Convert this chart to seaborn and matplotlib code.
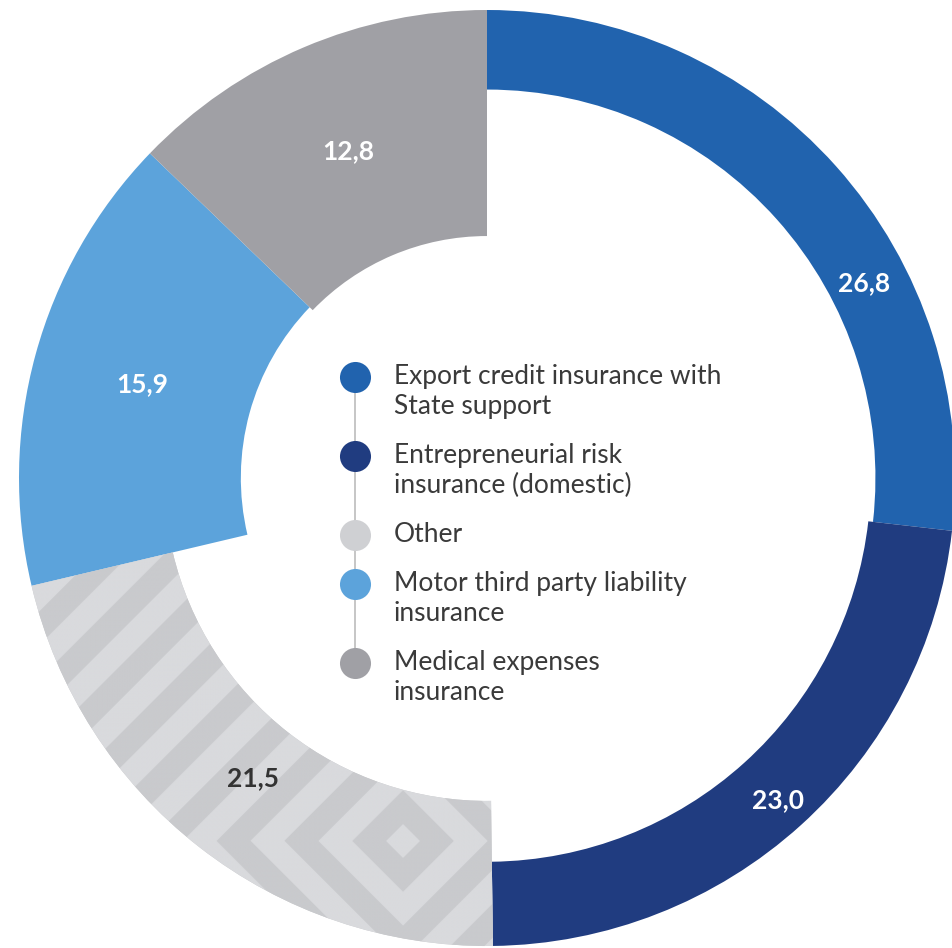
import numpy as np
import pandas as pd
import matplotlib
matplotlib.use("Agg")
import matplotlib.pyplot as plt
from matplotlib.colors import ListedColormap
import seaborn as sns

# Share of gross written premium by line of business, %
categories = [
    "Export credit insurance with\nState support",
    "Entrepreneurial risk\ninsurance (domestic)",
    "Other",
    "Motor third party liability\ninsurance",
    "Medical expenses\ninsurance",
]
shares = [26.8, 23.0, 21.5, 15.9, 12.8]
value_labels = ["26,8", "23,0", "21,5", "15,9", "12,8"]

sns.set_theme(style="white")
plt.rcParams["font.family"] = ["Lato", "DejaVu Sans"]

palette = sns.color_palette(["#2163AE", "#203C80", "#C9CACD", "#5CA3DB", "#A0A0A5"])
legend_palette = sns.color_palette(["#2163AE", "#203C80", "#CFD0D3", "#5CA3DB", "#A0A0A5"])
stripe_light = "#D9DADD"
text_dark = "#3A3A3A"

# ring geometry: each segment has its own inner radius (outer radius = 1)
ring_inner = [0.83, 0.82, 0.69, 0.526, 0.517]
label_along = [0.65, 0.5, 0.5, 0.5, 0.5]    # position along the arc (0 = start)
label_across = [0.45, 0.6, 0.4, 0.5, 0.5]   # position across the band (0 = inner)
label_colors = ["white", "white", "#333333", "white", "white"]

W, H = 953, 948
PX = 468.0                 # pixels per unit radius
CX, CY = 487.0, 478.0      # ring centre in pixels

df = pd.DataFrame({"category": categories, "share": shares, "label": value_labels})

fig = plt.figure(figsize=(W / 100, H / 100), dpi=100)
fig.patch.set_facecolor("white")
ax = fig.add_axes([0, 0, 1, 1])

wedges, _ = ax.pie(
    df["share"], colors=palette, startangle=90, counterclock=False,
    radius=1.0, wedgeprops=dict(linewidth=0),
)
for w, rin in zip(wedges, ring_inner):
    w.set_width(1.0 - rin)

# concentric-diamond texture on the "Other" segment
other = wedges[2]
sc_x, sc_y = (403 - CX) / PX, (CY - 841) / PX
period = 0.145
xs = np.linspace(-1.05, 0.1, 1400)
ys = np.linspace(-1.05, 0.1, 1400)
X, Y = np.meshgrid(xs, ys)
L1 = np.abs(X - sc_x) + np.abs(Y - sc_y)
band = np.floor((L1 - 0.036) / (period / 2)) % 2
img = ax.imshow(
    band, extent=(xs[0], xs[-1], ys[0], ys[-1]), origin="lower",
    cmap=ListedColormap([palette[2], stripe_light]), vmin=0, vmax=1,
    interpolation="antialiased", zorder=other.get_zorder() + 0.1,
)
img.set_clip_path(other)

# value labels inside the bands
for w, rin, fa, fr, lab, col in zip(wedges, ring_inner, label_along,
                                    label_across, df["label"], label_colors):
    ang = np.deg2rad(w.theta2 - fa * (w.theta2 - w.theta1))
    r = rin + fr * (1.0 - rin)
    ax.text(r * np.cos(ang), r * np.sin(ang), lab, ha="center", va="center",
            fontsize=19, fontweight="bold", color=col, zorder=5)

ax.set_xlim(-CX / PX, (W - CX) / PX)
ax.set_ylim((CY - H) / PX, CY / PX)
ax.set_aspect("auto")
ax.axis("off")

# legend in the hole: dots joined by a thin vertical line
dot_x = 355 / W
text_x = 394 / W
line_step = 30
y = 377
dot_ys = []
for cat, col in zip(df["category"], legend_palette):
    lines = cat.split("\n")
    dot_ys.append(y)
    ax.scatter([dot_x], [1 - y / H], s=500, color=col, transform=ax.transAxes,
               zorder=6, clip_on=False, linewidths=0)
    for i, ln in enumerate(lines):
        ax.text(text_x, 1 - (y + 7 + i * line_step) / H, ln,
                transform=ax.transAxes, ha="left", va="baseline",
                fontsize=19, color=text_dark, zorder=6)
    y += len(lines) * line_step + 19
ax.plot([dot_x, dot_x], [1 - dot_ys[0] / H, 1 - dot_ys[-1] / H],
        transform=ax.transAxes, color="#C2C2C2", lw=1.3, zorder=5.5)

fig.savefig("out.png", dpi=100, facecolor="white")
